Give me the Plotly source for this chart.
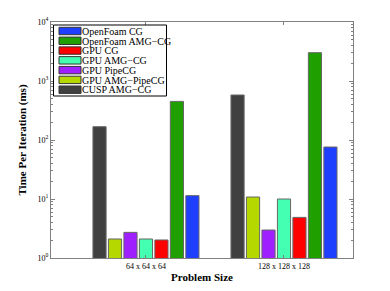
import plotly.graph_objects as go

groups = ["64 x 64 x 64", "128 x 128 x 128"]
group_pos = [1, 2]

# bar order left-to-right within each group
series_names = ["CUSP AMG\u2212CG", "GPU AMG\u2212PipeCG", "GPU PipeCG", "GPU AMG\u2212CG",
                "GPU CG", "OpenFoam AMG\u2212CG", "OpenFoam CG"]
cusp_amg_cg = [168, 579]
gpu_amg_pipecg = [2.1, 10.8]
gpu_pipecg = [2.72, 2.98]
gpu_amg_cg = [2.1, 10.0]
gpu_cg = [2.02, 4.88]
openfoam_amg_cg = [451, 3020]
openfoam_cg = [11.4, 76]
series_values = [cusp_amg_cg, gpu_amg_pipecg, gpu_pipecg, gpu_amg_cg,
                 gpu_cg, openfoam_amg_cg, openfoam_cg]
series_colors = ["#404040", "#b5d800", "#a01fff", "#44ffb2",
                 "#ff0000", "#1fa000", "#1f3fff"]

y_tick_vals = [1, 10, 100, 1000, 10000]
y_tick_text = ["10<sup>0</sup>", "10<sup>1</sup>", "10<sup>2</sup>", "10<sup>3</sup>", "10<sup>4</sup>"]

serif = "Liberation Serif, Times New Roman, serif"

# page body has an 8px margin; the figure fills the rest of the 390x291 window
OFF = 8
W, H = 390 - OFF, 291 - OFF
L, R, T, B = 51 - OFF, 37, 22 - OFF, 33
pw, ph = W - L - R, H - T - B

fig = go.Figure()
for name, vals, col in zip(series_names, series_values, series_colors):
    fig.add_trace(go.Bar(
        x=group_pos, y=vals, name=name,
        marker=dict(color=col, line=dict(color="#666666", width=1)),
    ))

# manual legend (reverse of bar order); positions given in window pixels
def px_x(p):
    return (p - OFF - L) / pw

def px_y(p):
    return (H - B - (p - OFF)) / ph

shapes = [dict(type="rect", xref="paper", yref="paper",
               x0=px_x(53.5), x1=px_x(166.5), y0=px_y(96), y1=px_y(25),
               line=dict(color="black", width=1), fillcolor="white", layer="above")]
annotations = []
legend_order = list(range(len(series_names)))[::-1]
for i, idx in enumerate(legend_order):
    cy = 31 + i * 9.78
    shapes.append(dict(type="rect", xref="paper", yref="paper",
                       x0=px_x(59), x1=px_x(81), y0=px_y(cy + 3.7), y1=px_y(cy - 3.7),
                       line=dict(color="#333333", width=1), fillcolor=series_colors[idx],
                       layer="above"))
    annotations.append(dict(xref="paper", yref="paper", x=px_x(82), y=px_y(cy + 0.3),
                            xanchor="left", yanchor="middle", showarrow=False,
                            borderpad=0, borderwidth=0,
                            text=series_names[idx],
                            font=dict(family=serif, size=10, color="black")))

fig.update_layout(
    width=W, height=H,
    margin=dict(l=L, r=R, t=T, b=B, autoexpand=False),
    paper_bgcolor="white", plot_bgcolor="white",
    barmode="group", bargap=0.215, bargroupgap=0.15,
    font=dict(family=serif, color="black", size=8),
    showlegend=False,
    shapes=shapes, annotations=annotations,
)
fig.update_xaxes(
    range=[0.312, 2.5], automargin=False,
    tickmode="array", tickvals=group_pos, ticktext=groups,
    showline=True, linecolor="#808080", linewidth=1, mirror="ticks",
    ticks="inside", ticklen=3, tickcolor="#808080",
    showgrid=False, zeroline=False,
    tickfont=dict(family=serif, size=8),
    title=dict(text="<b>Problem Size</b>", font=dict(family=serif, size=11), standoff=3),
)
fig.update_yaxes(
    type="log", range=[0, 4], automargin=False,
    tickmode="array", tickvals=y_tick_vals, ticktext=y_tick_text,
    showline=True, linecolor="#808080", linewidth=1, mirror="ticks",
    ticks="inside", ticklen=4, tickcolor="#808080",
    minor=dict(ticks="inside", ticklen=2, tickcolor="#808080", dtick="D1", showgrid=False),
    showgrid=False, zeroline=False,
    tickfont=dict(family=serif, size=8),
    title=dict(text="<b>Time Per Iteration (ms)</b>", font=dict(family=serif, size=11), standoff=8),
)

fig.write_html("out.html")
